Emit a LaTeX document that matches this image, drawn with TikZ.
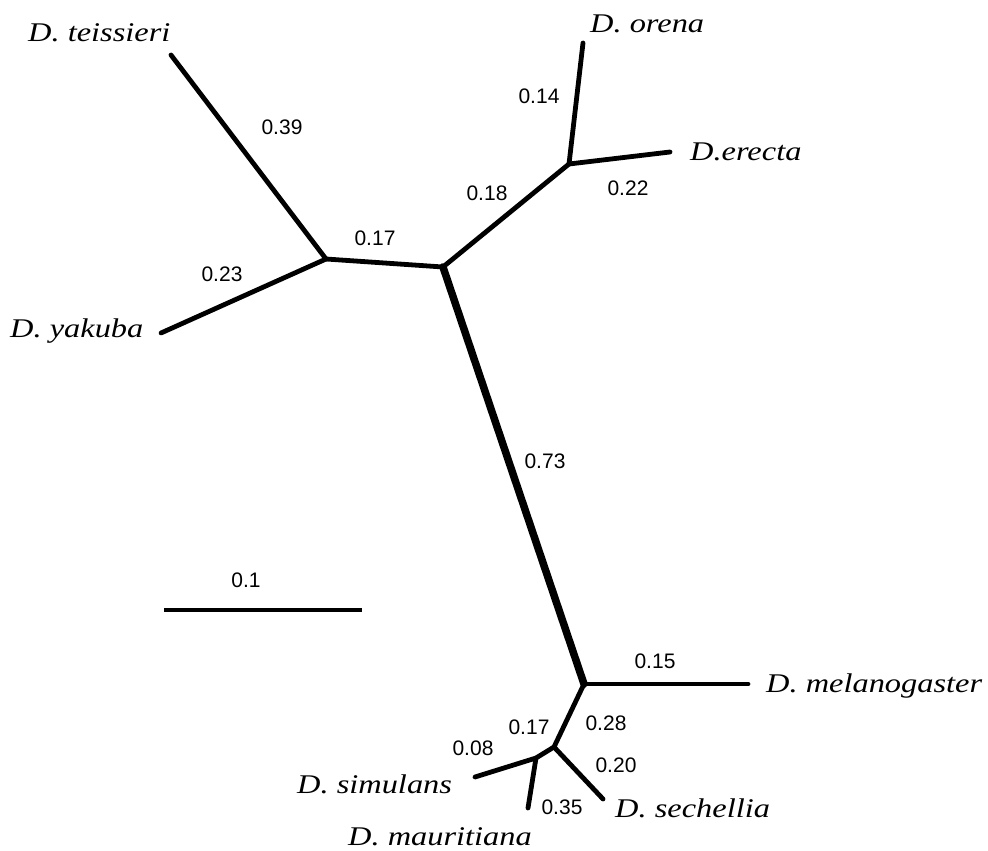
\documentclass[tikz,border=0pt]{standalone}
\usepackage{fontspec}
\setmainfont{Liberation Serif}
\newfontfamily\numfont{Liberation Sans}
\newfontfamily\spfont[FakeStretch=1.2]{Liberation Serif}
\begin{document}
\begin{tikzpicture}[x=1pt,y=-1pt,
  br/.style={line width=4.8pt, line cap=round, line join=round},
  thickbr/.style={line width=7.5pt, line cap=round},
  num/.style={font=\numfont\fontsize{21}{21}\selectfont, inner sep=0pt},
  sp/.style={font=\spfont\itshape\fontsize{27}{27}\selectfont, inner sep=0pt, anchor=base west}]
\useasboundingbox[fill=white] (0,0) rectangle (988,851);
% tree nodes
\coordinate (te) at (171,55);
\coordinate (A)  at (326,259);
\coordinate (ya) at (161,333);
\coordinate (B)  at (443,267);
\coordinate (C)  at (569,164);
\coordinate (or) at (583,43);
\coordinate (er) at (670,152);
\coordinate (D)  at (584,684);
\coordinate (me) at (748,684);
\coordinate (E)  at (554,747);
\coordinate (F)  at (536,758);
\coordinate (si) at (475,777);
\coordinate (ma) at (528,808);
\coordinate (se) at (603,799);
\coordinate (s1) at (164,610);
\coordinate (s2) at (362,610);
% branches
\draw[br] (te) -- (A);
\draw[br] (ya) -- (A);
\draw[br] (A) -- (B);
\draw[br] (B) -- (C);
\draw[br] (C) -- (or);
\draw[br] (C) -- (er);
\draw[thickbr] (B) -- (D);
\draw[br] (D) -- (me);
\draw[br] (D) -- (E);
\draw[br] (E) -- (F) -- (si);
\draw[br] (F) -- (ma);
\draw[br] (E) -- (se);
\draw[br, line cap=butt] (s1) -- (s2);
% species labels
\node[sp] (lte) at (28,42) {D. teissieri};
\node[sp] (lya) at (10,337) {D. yakuba};
\node[sp] (lor) at (590,33) {D. orena};
\node[sp] (ler) at (690,160) {D.erecta};
\node[sp] (lme) at (766,692) {D. melanogaster};
\node[sp] (lsi) at (297,793) {D. simulans};
\node[sp] (lma) at (348,845) {D. mauritiana};
\node[sp] (lse) at (615,817) {D. sechellia};
% branch lengths
\node[num] (n39) at (282,127) {0.39};
\node[num] (n17a) at (375,238) {0.17};
\node[num] (n23) at (222,274) {0.23};
\node[num] (n14) at (539,96) {0.14};
\node[num] (n18) at (487,193) {0.18};
\node[num] (n22) at (628,188) {0.22};
\node[num] (n73) at (545,461) {0.73};
\node[num] (n15) at (655,661) {0.15};
\node[num] (n28) at (606,723) {0.28};
\node[num] (n17b) at (529,727) {0.17};
\node[num] (n08) at (473,748) {0.08};
\node[num] (n20) at (616,765) {0.20};
\node[num] (n35) at (562,807) {0.35};
\node[num] (n1) at (246,580) {0.1};
\end{tikzpicture}
\end{document}
